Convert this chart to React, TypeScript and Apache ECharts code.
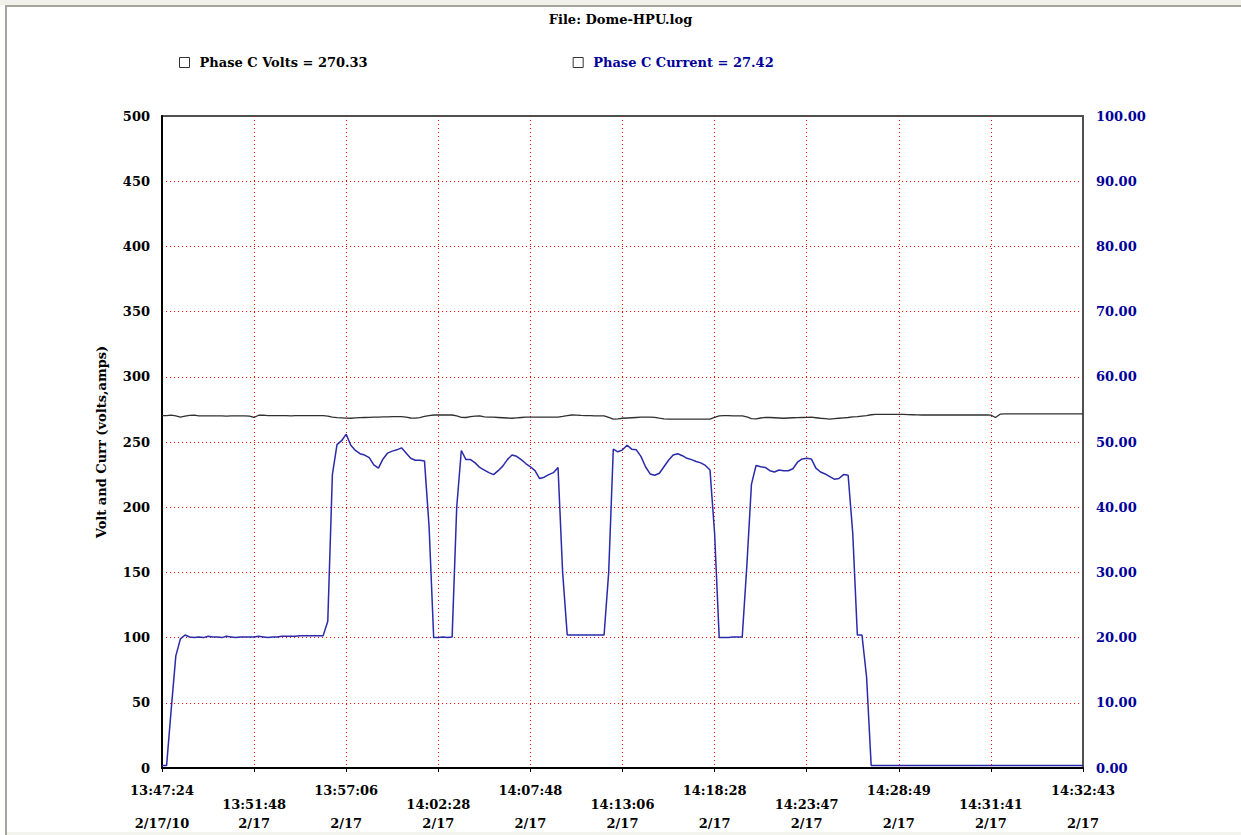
import React, { useEffect, useRef } from 'react';
import * as echarts from 'echarts';

const chartTitle = 'File: Dome-HPU.log';
const voltName = 'Phase C Volts = 270.33';
const currName = 'Phase C Current = 27.42';
const yAxisName = 'Volt and Curr (volts,amps)';

const tickTimes = ['13:47:24', '13:51:48', '13:57:06', '14:02:28', '14:07:48', '14:13:06', '14:18:28', '14:23:47', '14:28:49', '14:31:41', '14:32:43'];
const tickDates = ['2/17/10', '2/17', '2/17', '2/17', '2/17', '2/17', '2/17', '2/17', '2/17', '2/17', '2/17'];

const voltage = [
  270.2, 270.2, 270.6, 270.0, 269.1, 269.8, 270.4, 270.6, 270.1, 270.0,
  270.0, 270.1, 270.0, 270.0, 269.9, 270.0, 270.1, 270.0, 270.0, 269.9,
  268.8, 270.5, 270.6, 270.3, 270.2, 270.2, 270.2, 270.2, 270.1, 270.2,
  270.2, 270.2, 270.2, 270.2, 270.2, 270.2, 269.8, 269.0, 268.7, 268.5,
  268.3, 268.2, 268.5, 268.7, 268.8, 268.9, 269.0, 269.1, 269.2, 269.3,
  269.4, 269.5, 269.5, 269.0, 268.4, 268.3, 268.7, 269.6, 270.3, 270.7,
  270.7, 270.7, 270.7, 270.7, 270.0, 268.9, 268.8, 269.4, 269.9, 270.0,
  269.3, 269.0, 269.0, 268.8, 268.6, 268.4, 268.2, 268.5, 268.8, 269.0,
  269.0, 269.0, 269.0, 269.0, 269.0, 269.0, 269.0, 269.6, 270.3, 270.7,
  270.6, 270.4, 270.3, 270.2, 270.1, 270.0, 270.0, 268.8, 267.6, 267.8,
  268.2, 268.4, 268.6, 268.8, 269.0, 269.0, 269.0, 268.9, 268.3, 267.8,
  267.6, 267.6, 267.6, 267.6, 267.6, 267.6, 267.6, 267.6, 267.6, 267.6,
  268.8, 270.1, 270.2, 270.2, 270.1, 270.0, 270.0, 269.2, 268.0, 267.8,
  268.4, 268.9, 268.8, 268.6, 268.4, 268.2, 268.4, 268.6, 268.7, 268.8,
  268.9, 269.0, 268.6, 268.2, 267.9, 267.6, 267.9, 268.2, 268.5, 268.8,
  269.2, 269.5, 269.9, 270.2, 270.9, 271.2, 271.2, 271.2, 271.2, 271.2,
  271.2, 271.2, 271.0, 270.9, 270.8, 270.7, 270.7, 270.7, 270.7, 270.7,
  270.7, 270.7, 270.7, 270.7, 270.7, 270.7, 270.7, 270.7, 270.7, 270.7,
  270.6, 268.8, 271.3, 271.5, 271.5, 271.5, 271.5, 271.5, 271.5, 271.5,
  271.5, 271.5, 271.5, 271.5, 271.5, 271.5, 271.5, 271.5, 271.5, 271.5,
  271.5,
];

const current = [
  0.4, 0.4, 9, 17.2, 19.8, 20.4, 20.1, 20.0, 20.1, 20.0,
  20.2, 20.1, 20.1, 20.0, 20.2, 20.1, 20.0, 20.1, 20.1, 20.1,
  20.1, 20.2, 20.1, 20.0, 20.1, 20.1, 20.2, 20.2, 20.2, 20.2,
  20.3, 20.3, 20.3, 20.3, 20.3, 20.3, 22.5, 45, 49.6, 50.2,
  51.2, 49.5, 48.7, 48.2, 48.0, 47.6, 46.5, 46.0, 47.4, 48.3,
  48.6, 48.8, 49.1, 48.3, 47.5, 47.2, 47.2, 47.1, 37, 20.0,
  20.0, 20.1, 20.0, 20.1, 40, 48.7, 47.3, 47.3, 46.8, 46.1,
  45.7, 45.3, 45.0, 45.6, 46.3, 47.3, 48.0, 47.8, 47.3, 46.7,
  46.2, 45.6, 44.4, 44.6, 45.0, 45.3, 46.1, 30, 20.4, 20.4,
  20.4, 20.4, 20.4, 20.4, 20.4, 20.4, 20.4, 30, 48.9, 48.5,
  48.8, 49.5, 48.9, 48.8, 47.8, 46.2, 45.1, 44.9, 45.2, 46.2,
  47.2, 48.0, 48.2, 47.9, 47.5, 47.3, 47.0, 46.8, 46.4, 45.7,
  36, 20.0, 20.0, 20.0, 20.1, 20.1, 20.1, 31, 43.5, 46.4,
  46.2, 46.1, 45.6, 45.4, 45.7, 45.6, 45.6, 45.9, 46.9, 47.4,
  47.5, 47.4, 46.0, 45.4, 45.1, 44.7, 44.3, 44.4, 45.0, 44.9,
  36, 20.4, 20.4, 14, 0.4, 0.4, 0.4, 0.4, 0.4, 0.4,
  0.4, 0.4, 0.4, 0.4, 0.4, 0.4, 0.4, 0.4, 0.4, 0.4,
  0.4, 0.4, 0.4, 0.4, 0.4, 0.4, 0.4, 0.4, 0.4, 0.4,
  0.4, 0.4, 0.4, 0.4, 0.4, 0.4, 0.4, 0.4, 0.4, 0.4,
  0.4, 0.4, 0.4, 0.4, 0.4, 0.4, 0.4, 0.4, 0.4, 0.4,
  0.4,
];

const samples = voltage.map((_, i) => String(i));
const TICK_STEP = 20;

export default function App() {
  const ref = useRef<HTMLDivElement>(null);
  useEffect(() => {
    if (!ref.current) return;
    const chart = echarts.init(ref.current, null, { renderer: 'svg' });
    const font = 'DejaVu Serif';
    const fs = 13;
    const navy = '#000099';
    chart.setOption({
      animation: false,
      backgroundColor: '#ffffff',
      textStyle: { fontFamily: font },
      title: {
        text: chartTitle,
        left: 'center',
        top: 8,
        textStyle: { fontFamily: font, fontSize: fs, fontWeight: 'bold', color: '#000' },
      },
      legend: {
        left: 179,
        top: 56,
        padding: 0,
        icon: 'rect',
        itemWidth: 10,
        itemHeight: 10,
        itemGap: 205,
        itemStyle: { color: '#ffffff', borderColor: '#333', borderWidth: 1 },
        textStyle: { fontFamily: font, fontSize: fs, fontWeight: 'bold', padding: [0, 0, 0, 5] },
        data: [
          { name: voltName, textStyle: { color: '#000' } },
          { name: currName, textStyle: { color: navy } },
        ],
      },
      grid: {
        left: 162,
        right: 158,
        top: 116,
        bottom: 67,
        show: true,
        borderColor: '#505050',
        borderWidth: 2,
        backgroundColor: 'transparent',
      },
      xAxis: {
        type: 'category',
        data: samples,
        boundaryGap: false,
        axisLine: { show: true, lineStyle: { color: '#000', width: 2 } },
        axisTick: { show: true, interval: TICK_STEP - 1, length: 4, inside: false, lineStyle: { color: '#000' } },
        splitLine: {
          show: true,
          showMinLine: false,
          showMaxLine: false,
          interval: TICK_STEP - 1,
          lineStyle: { color: '#ff0000', type: [1, 3], width: 1 },
        },
        axisLabel: {
          interval: TICK_STEP - 1,
          showMinLabel: true,
          showMaxLabel: true,
          margin: 15,
          formatter: (_v: string, idx: number) => {
            const k = Math.round(idx / TICK_STEP);
            const t = tickTimes[k] ?? '';
            const d = tickDates[k] ?? '';
            return k % 2 === 0 ? `{t|${t}}\n{g| }\n{d|${d}}` : `{g| }\n{t|${t}}\n{d|${d}}`;
          },
          rich: {
            t: { fontFamily: font, fontSize: fs, fontWeight: 'bold', color: '#000', lineHeight: 14 },
            g: { fontFamily: font, fontSize: fs, lineHeight: 14 },
            d: { fontFamily: font, fontSize: fs, fontWeight: 'bold', color: '#000', lineHeight: 24 },
          },
        },
      },
      yAxis: [
        {
          type: 'value',
          min: 0,
          max: 500,
          interval: 50,
          name: yAxisName,
          nameLocation: 'middle',
          nameGap: 54,
          nameRotate: 90,
          nameTextStyle: { fontFamily: font, fontSize: fs, fontWeight: 'bold', color: '#000' },
          axisLine: { show: true, lineStyle: { color: '#000', width: 2 } },
          axisTick: { show: false },
          axisLabel: { margin: 12, fontFamily: font, fontSize: fs, fontWeight: 'bold', color: '#000' },
          splitLine: {
            show: true,
            showMinLine: false,
            showMaxLine: false,
            lineStyle: { color: '#ff0000', type: [1, 3], width: 1 },
          },
        },
        {
          type: 'value',
          min: 0,
          max: 100,
          interval: 10,
          position: 'right',
          axisLine: { show: true, lineStyle: { color: '#505050', width: 2 } },
          axisTick: { show: false },
          axisLabel: {
            margin: 13,
            fontFamily: font,
            fontSize: fs,
            fontWeight: 'bold',
            color: navy,
            formatter: (v: number) => v.toFixed(2),
          },
          splitLine: { show: false },
        },
      ],
      series: [
        {
          name: voltName,
          type: 'line',
          yAxisIndex: 0,
          data: voltage,
          showSymbol: false,
          lineStyle: { color: '#303030', width: 1.3 },
          itemStyle: { color: '#303030' },
        },
        {
          name: currName,
          type: 'line',
          yAxisIndex: 1,
          data: current,
          showSymbol: false,
          lineStyle: { color: '#2a2aaa', width: 1.5 },
          itemStyle: { color: '#2a2aaa' },
        },
      ],
      graphic: [
        { type: 'rect', shape: { x: 0, y: 0, width: 1241, height: 5 }, style: { fill: '#f1f1ea' }, silent: true },
        { type: 'rect', shape: { x: 5, y: 5, width: 1236, height: 2 }, style: { fill: '#a5a59a' }, silent: true },
        { type: 'rect', shape: { x: 5, y: 5, width: 2, height: 830 }, style: { fill: '#a5a59a' }, silent: true },
        { type: 'rect', shape: { x: 7, y: 832, width: 1234, height: 3 }, style: { fill: '#f4f4ee' }, silent: true },
      ],
    });
    return () => chart.dispose();
  }, []);
  return (
    <div
      ref={ref}
      style={{ position: 'absolute', left: 0, top: 0, width: 1241, height: 835, background: '#fff' }}
    />
  );
}
